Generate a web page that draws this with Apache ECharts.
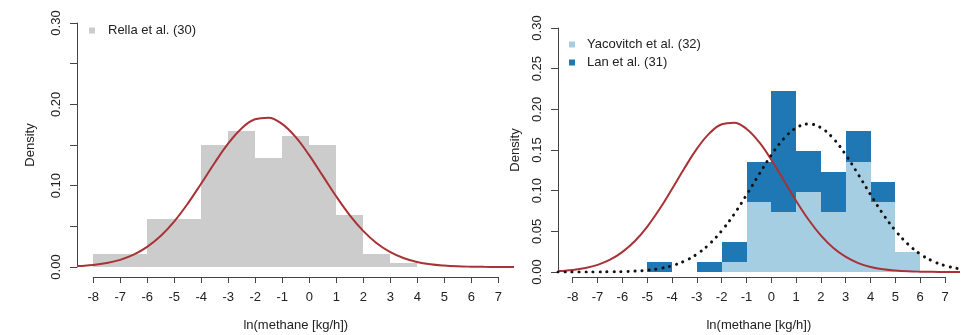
<!DOCTYPE html>
<html><head><meta charset="utf-8">
<script src="https://cdn.jsdelivr.net/npm/echarts@6/dist/echarts.min.js"></script>
<style>html,body{margin:0;padding:0;background:#fff}#c{width:964px;height:335px}</style>
</head><body><div id="c"></div>
<script>
// ---- data ----
const rellaBinStart = [-8, -7, -6, -5, -4, -3, -2, -1, 0, 1, 2, 3];
const rellaDensity = [0.0161, 0.0161, 0.0591, 0.0591, 0.1505, 0.1667, 0.1344, 0.1613, 0.1505, 0.0645, 0.0161, 0.0054];

const rightBinStart = [-5, -4, -3, -2, -1, 0, 1, 2, 3, 4, 5];
const yacovitchDensity = [0, 0, 0, 0.0123, 0.0864, 0.0741, 0.0988, 0.0741, 0.1358, 0.0864, 0.0247];
const lanDensity = [0.0123, 0, 0.0123, 0.0247, 0.0494, 0.1481, 0.0494, 0.0494, 0.0370, 0.0247, 0];

const curveX = [-8.6, -8.5, -8, -7.5, -7, -6.5, -6, -5.5, -5, -4.5, -4, -3.5, -3, -2.5, -2, -1.5, -1, -0.5,
  0, 0.5, 1, 1.5, 2, 2.5, 3, 3.5, 4, 4.5, 5, 5.5, 6, 6.5, 7, 7.5, 7.6];
const rellaFit = [0.0011, 0.0013, 0.0025, 0.0049, 0.0088, 0.0151, 0.0247, 0.0381, 0.0559, 0.0777, 0.1024, 0.1279,
  0.1516, 0.1704, 0.1816, 0.1836, 0.1759, 0.1599, 0.1378, 0.1126, 0.0873, 0.0642, 0.0447, 0.0295, 0.0185,
  0.0110, 0.0062, 0.0033, 0.0017, 0.0008, 0.0004, 0.0002, 0.0001, 0.0000, 0.0000];
const rightFit = [0.0000, 0.0000, 0.0000, 0.0000, 0.0001, 0.0002, 0.0005, 0.0011, 0.0022, 0.0043, 0.0078, 0.0134,
  0.0220, 0.0343, 0.0508, 0.0712, 0.0949, 0.1199, 0.1439, 0.1640, 0.1773, 0.1820, 0.1773, 0.1640, 0.1439,
  0.1199, 0.0949, 0.0712, 0.0508, 0.0343, 0.0220, 0.0134, 0.0078, 0.0043, 0.0038];

const xTickMin = -8, xTickMax = 7;
const yMax = 0.30, yStep = 0.05;

const FONT = '"Liberation Sans", Arial, sans-serif';
const AXIS_COL = '#444';
const TXT = '#222';
const RED = '#A83236';

function histRect(params, api) {
  const a = api.coord([api.value(0), api.value(2)]);
  const b = api.coord([api.value(1), api.value(3)]);
  const x0 = Math.round(a[0]), x1 = Math.round(b[0]);
  const y0 = Math.round(a[1]), y1 = Math.round(b[1]);
  return {
    type: 'rect',
    shape: { x: x0, y: y1, width: x1 - x0, height: y0 - y1 },
    style: { fill: api.visual('color') }
  };
}

function xAxisShown(grid) {
  return {
    gridIndex: grid, type: 'value', min: xTickMin, max: xTickMax, interval: 1, position: 'bottom',
    axisLine: { show: true, onZero: false, lineStyle: { color: AXIS_COL, width: 1 } },
    axisTick: { show: true, length: 6, lineStyle: { color: AXIS_COL } },
    axisLabel: { margin: 14, fontSize: 13, color: TXT, fontFamily: FONT },
    splitLine: { show: false },
    name: 'ln(methane [kg/h])', nameLocation: 'middle', nameGap: 42,
    nameTextStyle: { fontSize: 13, color: TXT, fontFamily: FONT }
  };
}
function yAxisShown(grid, everyLabel, nameGap) {
  return {
    gridIndex: grid, type: 'value', min: 0, max: yMax, interval: yStep, position: 'left',
    axisLine: { show: true, onZero: false, lineStyle: { color: AXIS_COL, width: 1 } },
    axisTick: { show: true, length: 7, lineStyle: { color: AXIS_COL } },
    axisLabel: {
      rotate: 90, margin: 14, fontSize: 13, color: TXT, fontFamily: FONT,
      formatter: v => (everyLabel || Math.round(v * 100) % 10 === 0) ? v.toFixed(2) : ''
    },
    splitLine: { show: false },
    name: 'Density', nameLocation: 'middle', nameGap: nameGap,
    nameTextStyle: { fontSize: 13, color: TXT, fontFamily: FONT }
  };
}

const chart = echarts.init(document.getElementById('c'), null, { renderer: 'canvas' });
chart.setOption({
  animation: false,
  backgroundColor: '#fff',
  textStyle: { fontFamily: FONT },
  grid: [
    { left: 77, top: 23, width: 437, height: 244 },
    { left: 93.3, top: 276, width: 405, height: 1 },
    { left: 558, top: 28, width: 402, height: 244 },
    { left: 572.7, top: 276, width: 372.3, height: 1 }
  ],
  xAxis: [
    { gridIndex: 0, type: 'value', min: -8.6, max: 7.6, show: false },
    xAxisShown(1),
    { gridIndex: 2, type: 'value', min: -8.6, max: 7.6, show: false },
    xAxisShown(3)
  ],
  yAxis: [
    yAxisShown(0, false, 40),
    { gridIndex: 1, type: 'value', min: 0, max: 1, show: false },
    yAxisShown(2, true, 36),
    { gridIndex: 3, type: 'value', min: 0, max: 1, show: false }
  ],
  legend: [
    { data: ['Rella et al. (30)'], left: 89, top: 24, orient: 'vertical', icon: 'rect',
      itemWidth: 6, itemHeight: 6, padding: 0, selectedMode: false,
      textStyle: { fontSize: 13, color: TXT, fontFamily: FONT, padding: [0, 0, 0, 8] } },
    { data: ['Yacovitch et al. (32)', 'Lan et al. (31)'], left: 569, top: 38, orient: 'vertical', icon: 'rect',
      itemWidth: 6, itemHeight: 6, itemGap: 5, padding: 0, selectedMode: false,
      textStyle: { fontSize: 13, color: TXT, fontFamily: FONT, padding: [0, 0, 0, 7] } }
  ],
  series: [
    { type: 'custom', name: 'Rella et al. (30)', xAxisIndex: 0, yAxisIndex: 0,
      itemStyle: { color: '#CCCCCC' }, renderItem: histRect, encode: { x: [0, 1], y: [2, 3] },
      data: rellaBinStart.map((s, i) => [s, s + 1, 0, rellaDensity[i]]) },
    { type: 'line', name: 'fitL', xAxisIndex: 0, yAxisIndex: 0, smooth: 0.4, showSymbol: false, symbol: 'none',
      lineStyle: { color: RED, width: 2 }, z: 5,
      data: curveX.map((x, i) => [x, rellaFit[i]]) },
    { type: 'custom', name: 'Yacovitch et al. (32)', xAxisIndex: 2, yAxisIndex: 2,
      itemStyle: { color: '#A6CEE3' }, renderItem: histRect, encode: { x: [0, 1], y: [2, 3] },
      data: rightBinStart.map((s, i) => [s, s + 1, 0, yacovitchDensity[i]]).filter(d => d[3] > 0) },
    { type: 'custom', name: 'Lan et al. (31)', xAxisIndex: 2, yAxisIndex: 2,
      itemStyle: { color: '#1F78B4' }, renderItem: histRect, encode: { x: [0, 1], y: [2, 3] },
      data: rightBinStart.map((s, i) => [s, s + 1, yacovitchDensity[i], yacovitchDensity[i] + lanDensity[i]]).filter(d => d[3] > d[2]) },
    { type: 'line', name: 'fitR', xAxisIndex: 2, yAxisIndex: 2, smooth: 0.4, showSymbol: false, symbol: 'none',
      lineStyle: { color: RED, width: 2 }, z: 5,
      data: curveX.map((x, i) => [x, rellaFit[i]]) },
    { type: 'line', name: 'fitDot', xAxisIndex: 2, yAxisIndex: 2, smooth: 0.4, showSymbol: false, symbol: 'none',
      lineStyle: { color: '#111', width: 3, type: [0.1, 6.9], cap: 'round' }, z: 6,
      data: curveX.map((x, i) => [x, rightFit[i]]) }
  ]
});
</script>
</body></html>
